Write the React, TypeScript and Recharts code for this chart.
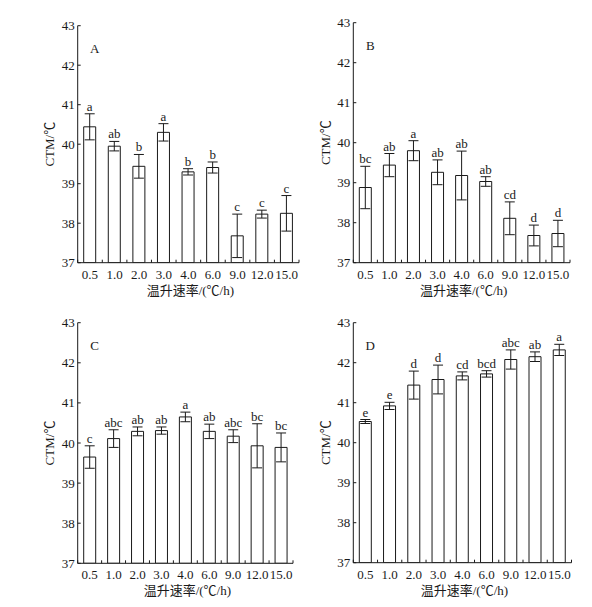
import React from 'react';
import { BarChart, Bar, XAxis, YAxis, ErrorBar, LabelList } from 'recharts';

const rates = ['0.5', '1.0', '2.0', '3.0', '4.0', '6.0', '9.0', '12.0', '15.0'];
const yTicks = [37, 38, 39, 40, 41, 42, 43];

const meanA = [40.44, 39.95, 39.44, 40.3, 39.3, 39.41, 37.68, 38.23, 38.25];
const errA = [0.33, 0.12, 0.3, 0.22, 0.08, 0.14, 0.55, 0.1, 0.45];
const letA = ['a', 'ab', 'b', 'a', 'b', 'b', 'c', 'c', 'c'];

const meanB = [38.88, 39.44, 39.8, 39.26, 39.18, 39.03, 38.11, 37.68, 37.73];
const errB = [0.53, 0.29, 0.25, 0.31, 0.61, 0.12, 0.41, 0.26, 0.33];
const letB = ['bc', 'ab', 'a', 'ab', 'ab', 'ab', 'cd', 'd', 'd'];

const meanC = [39.65, 40.11, 40.29, 40.31, 40.65, 40.29, 40.17, 39.93, 39.89];
const errC = [0.28, 0.22, 0.11, 0.09, 0.12, 0.18, 0.16, 0.55, 0.36];
const letC = ['c', 'abc', 'ab', 'ab', 'a', 'ab', 'abc', 'bc', 'bc'];

const meanD = [40.53, 40.92, 41.44, 41.58, 41.67, 41.72, 42.08, 42.15, 42.32];
const errD = [0.05, 0.09, 0.35, 0.36, 0.1, 0.08, 0.24, 0.12, 0.14];
const letD = ['e', 'e', 'd', 'd', 'cd', 'bcd', 'abc', 'ab', 'a'];

const SERIF = '"Liberation Serif", "Times New Roman", "Noto Sans CJK SC", serif';
const INK = '#1a1a1a';
const FS = 13;

interface PanelProps {
  tag: string;
  means: number[];
  errs: number[];
  letters: string[];
  left: number;
  top: number;
  width: number;
  height: number;
  margin: { top: number; right: number; bottom: number; left: number };
  yAxisWidth: number;
  xAxisHeight: number;
}

function XTick(props: any) {
  const { x, y, payload, index } = props;
  const half = payload?.offset ?? 12;
  return (
    <g>
      <line x1={x - half} x2={x - half} y1={y} y2={y - 3} stroke={INK} />
      {index === rates.length - 1 && <line x1={x + half} x2={x + half} y1={y} y2={y - 3} stroke={INK} />}
      <text x={x} y={y + 16} textAnchor="middle" fontSize={FS} fontFamily={SERIF} fill={INK}>
        {payload.value}
      </text>
    </g>
  );
}

function YTick(props: any) {
  const { x, y, payload } = props;
  return (
    <g>
      <line x1={x} x2={x + 3} y1={y} y2={y} stroke={INK} />
      <text x={x - 3} y={y + 4.5} textAnchor="end" fontSize={FS} fontFamily={SERIF} fill={INK}>
        {payload.value}
      </text>
    </g>
  );
}

function Panel({ tag, means, errs, letters, left, top, width, height, margin, yAxisWidth, xAxisHeight }: PanelProps) {
  const data = rates.map((r, i) => ({ rate: r, ctm: means[i], err: errs[i], letter: letters[i] }));

  const renderLetter = (p: any) => {
    const { x, y, width: w, height: h, index } = p;
    const ppu = h / (means[index] - 37);
    const topY = y - errs[index] * ppu;
    return (
      <text x={x + w / 2} y={topY - 3} textAnchor="middle" fontSize={FS} fontFamily={SERIF} fill={INK}>
        {letters[index]}
      </text>
    );
  };

  return (
    <div style={{ position: 'absolute', left, top }}>
      <BarChart width={width} height={height} data={data} margin={margin} barSize={12}>
        <XAxis
          dataKey="rate"
          interval={0}
          tickLine={false}
          tickSize={0}
          tickMargin={0}
          height={xAxisHeight}
          axisLine={{ stroke: INK }}
          tick={<XTick />}
          label={{
            content: ({ viewBox }: any) => (
              <text
                x={viewBox.x + viewBox.width / 2 + 2}
                y={viewBox.y + 32}
                textAnchor="middle"
                fontSize={FS}
                fontFamily={SERIF}
                fill={INK}
              >
                温升速率/(℃/h)
              </text>
            ),
          }}
        />
        <YAxis
          domain={[37, 43]}
          ticks={yTicks}
          interval={0}
          allowDataOverflow
          width={yAxisWidth}
          tickLine={false}
          tickSize={0}
          tickMargin={0}
          axisLine={{ stroke: INK }}
          tick={<YTick />}
          label={{
            content: ({ viewBox }: any) => {
              const cx = viewBox.x + viewBox.width - 28;
              const cy = viewBox.y + viewBox.height / 2;
              return (
                <text
                  x={cx}
                  y={cy}
                  transform={`rotate(-90 ${cx} ${cy})`}
                  textAnchor="middle"
                  dominantBaseline="central"
                  fontSize={FS}
                  fontFamily={SERIF}
                  fill={INK}
                >
                  CTM/℃
                </text>
              );
            },
          }}
        />
        <Bar dataKey="ctm" fill="#ffffff" stroke={INK} strokeWidth={1} isAnimationActive={false}>
          <ErrorBar dataKey="err" width={5} stroke={INK} strokeWidth={1} direction="y" isAnimationActive={false} />
          <LabelList dataKey="letter" content={renderLetter} />
        </Bar>
        <text x={margin.left + yAxisWidth + 17} y={margin.top + 27} textAnchor="middle" fontSize={FS} fontFamily={SERIF} fill={INK}>
          {tag}
        </text>
      </BarChart>
    </div>
  );
}

export default function App() {
  return (
    <div style={{ position: 'absolute', left: 0, top: 0, width: 592, height: 607, background: '#fff' }}>
      <Panel
        tag="A" means={meanA} errs={errA} letters={letA}
        left={0} top={0} width={300} height={300}
        margin={{ top: 25.7, right: 1, bottom: 0, left: 0 }}
        yAxisWidth={77.7} xAxisHeight={37.3}
      />
      <Panel
        tag="B" means={meanB} errs={errB} letters={letB}
        left={296} top={0} width={296} height={300}
        margin={{ top: 22.7, right: 22, bottom: 0, left: 0 }}
        yAxisWidth={57.3} xAxisHeight={37.3}
      />
      <Panel
        tag="C" means={meanC} errs={errC} letters={letC}
        left={0} top={300} width={300} height={307}
        margin={{ top: 22.7, right: 7, bottom: 0, left: 0 }}
        yAxisWidth={77.7} xAxisHeight={43.7}
      />
      <Panel
        tag="D" means={meanD} errs={errD} letters={letD}
        left={296} top={300} width={296} height={307}
        margin={{ top: 22.7, right: 20.5, bottom: 0, left: 0 }}
        yAxisWidth={57.3} xAxisHeight={44.3}
      />
    </div>
  );
}
